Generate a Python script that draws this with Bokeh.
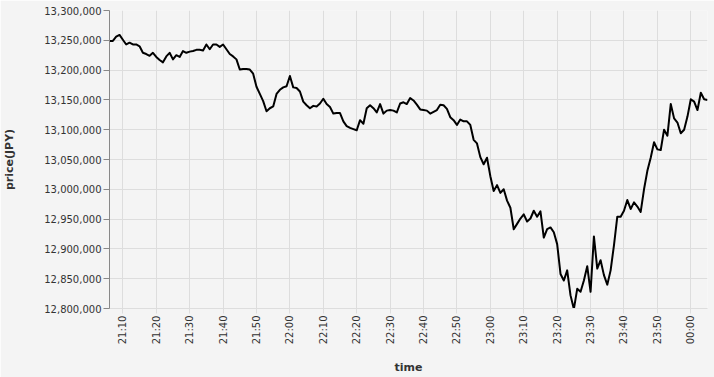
import pandas as pd
from bokeh.plotting import figure
from bokeh.models import (Range1d, FixedTicker, NumeralTickFormatter,
                          DatetimeTickFormatter, ColumnDataSource)
from bokeh.embed import file_html
from bokeh.resources import INLINE
import math

# ---- data (price in thousands of JPY, one value per minute from 21:06) ----
start_time = "2024-01-01 21:06"
price_k = [
    13249, 13249, 13256, 13259, 13251, 13243, 13246, 13243, 13243, 13240,
    13229, 13227, 13224, 13229, 13222, 13217, 13213, 13223, 13229, 13218,
    13225, 13222, 13232, 13229, 13231, 13232, 13234, 13234, 13233, 13243,
    13235, 13243, 13243, 13239, 13243, 13235, 13227, 13223, 13218, 13201,
    13202, 13202, 13201, 13194, 13172, 13160, 13148, 13131, 13136, 13139,
    13160, 13167, 13171, 13173, 13190, 13171, 13170, 13164,
    13147, 13141, 13136, 13140, 13139, 13144, 13152, 13143, 13138, 13127,
    13128, 13128, 13114, 13106, 13103, 13101, 13099, 13116, 13110, 13136,
    13141, 13136, 13129, 13143, 13127, 13132, 13133, 13132, 13129,
    13144, 13146, 13143, 13153, 13149, 13142, 13134, 13133, 13132, 13127,
    13130, 13133, 13142, 13141, 13135, 13121, 13116, 13108, 13117, 13114,
    13114, 13108, 13083, 13077, 13054, 13042, 13053, 13022, 12997, 13007,
    12994, 13000, 12981, 12969, 12933, 12942, 12951, 12958, 12946, 12951,
    12964, 12954, 12963, 12919, 12933, 12936, 12928, 12908, 12858, 12847,
    12864, 12822, 12799, 12833, 12828, 12847, 12871, 12828, 12921, 12867,
    12881,
    12856, 12840, 12864, 12906, 12954, 12954, 12964, 12982, 12967, 12978,
    12971, 12962, 13000, 13031, 13053, 13079, 13067, 13066, 13100, 13090,
    13143, 13119, 13112, 13094, 13100, 13122, 13151, 13147, 13133, 13162,
    13151, 13150,
]
tick_labels = ["21:10", "21:20", "21:30", "21:40", "21:50", "22:00",
               "22:10", "22:20", "22:30", "22:40", "22:50", "23:00",
               "23:10", "23:20", "23:30", "23:40", "23:50", "00:00"]
first_tick = "2024-01-01 21:10"
y_ticks = [12800000, 12850000, 12900000, 12950000, 13000000, 13050000,
           13100000, 13150000, 13200000, 13250000, 13300000]

price = [v * 1000 for v in price_k]
epoch = pd.Timestamp("1970-01-01")
times = pd.date_range(start_time, periods=len(price), freq="1min")
x_ms = [float((t - epoch) / pd.Timedelta("1ms")) for t in times]
tick_times = pd.date_range(first_tick, periods=len(tick_labels), freq="10min")
tick_ms = [float((t - epoch) / pd.Timedelta("1ms")) for t in tick_times]

src = ColumnDataSource(dict(x=x_ms, y=price))

BG = "#f4f4f4"
FONT = "DejaVu Sans"

p = figure(width=714, height=377, x_axis_type="datetime",
           output_backend="svg", toolbar_location=None,
           x_range=Range1d(x_ms[0], x_ms[-1]),
           y_range=Range1d(y_ticks[0], y_ticks[-1]),
           min_border_left=107, min_border_right=7,
           min_border_top=10, min_border_bottom=67)
p.background_fill_color = BG
p.border_fill_color = BG
p.outline_line_color = None

p.line("x", "y", source=src, line_color="black", line_width=2,
       line_join="round")

# x axis
xa = p.xaxis[0]
xa.ticker = FixedTicker(ticks=tick_ms)
fmt = "%H:%M"
xa.formatter = DatetimeTickFormatter(
    microseconds=fmt, milliseconds=fmt, seconds=fmt, minsec=fmt,
    minutes=fmt, hourmin=fmt, hours=fmt, days=fmt, months=fmt, years=fmt)
xa.major_label_orientation = math.pi / 2
xa.axis_label = "time"
xa.axis_line_color = "#dddddd"
xa.major_tick_line_color = "#dddddd"
xa.major_tick_in = 0
xa.major_tick_out = 5
xa.minor_tick_line_color = None
xa.major_label_standoff = 2
xa.axis_label_standoff = 14

# y axis
ya = p.yaxis[0]
ya.ticker = FixedTicker(ticks=y_ticks)
ya.formatter = NumeralTickFormatter(format="0,0")
ya.axis_label = "price(JPY)"
ya.axis_line_color = "#888888"
ya.major_tick_line_color = "#888888"
ya.major_tick_in = 0
ya.major_tick_out = 6
ya.minor_tick_line_color = None
ya.major_label_standoff = 2
ya.axis_label_standoff = 25

for ax in (xa, ya):
    ax.major_label_text_font = FONT
    ax.major_label_text_font_size = "10px"
    ax.major_label_text_color = "#333333"
    ax.axis_label_text_font = FONT
    ax.axis_label_text_font_size = "11px"
    ax.axis_label_text_font_style = "bold"
    ax.axis_label_text_color = "#333333"

p.xgrid.ticker = FixedTicker(ticks=tick_ms)
p.ygrid.ticker = FixedTicker(ticks=y_ticks)
for g in (p.xgrid[0], p.ygrid[0]):
    g.grid_line_color = "#dddddd"
    g.grid_line_width = 1

open("out.html", "w").write(file_html(p, INLINE))
